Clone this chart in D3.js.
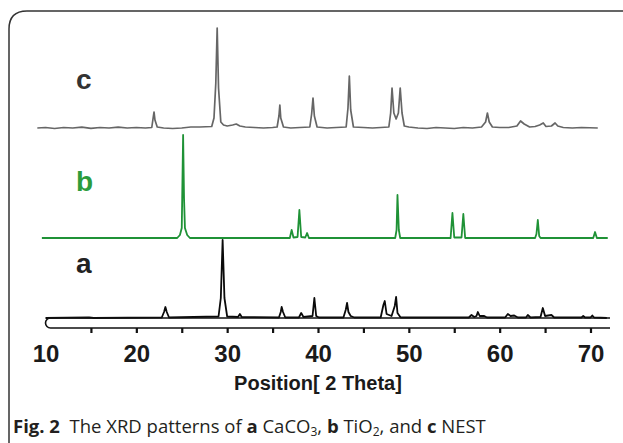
<!DOCTYPE html>
<html>
<head>
<meta charset="utf-8">
<script src="https://cdn.jsdelivr.net/npm/d3@7"></script>
<style>
  body { margin: 0; background: #fff; }
  svg { display: block; }
</style>
</head>
<body>
<div class="canvas"></div>
<script>
const w = 623;
const h = 443;

// XRD patterns, [2 theta, intensity above own baseline]
const patternA = [
  [10.0,0],[14.8,0.5],[15.3,0],[22.8,0.5],[23.05,6],[23.2,11],[23.35,6],[23.6,0.5],
  [29.05,1.5],[29.3,20],[29.5,78],[29.7,20],[30.0,1.5],
  [31.2,1],[31.4,4],[31.6,1],
  [35.7,0.5],[35.9,6],[36.0,11],[36.15,6],[36.4,0.5],
  [37.9,0.5],[38.15,5],[38.4,1],[39.4,2],[39.6,20],[39.8,2],[40.1,0.5],
  [42.8,0.5],[43.05,8],[43.2,15],[43.35,6],[43.6,2],[44.0,0.5],
  [46.9,0.5],[47.2,13],[47.35,17],[47.55,4],[48.1,2],[48.45,12],[48.6,21],[48.75,5],[49.1,0.5],
  [56.6,0.5],[56.9,3],[57.2,1],[57.45,2],[57.6,6],[57.8,2],[58.3,2],[58.6,0.5],
  [60.6,0.5],[60.9,4],[61.2,2],[61.6,2.5],[62.0,0.5],
  [62.9,0.5],[63.1,3],[63.4,0.5],[64.5,1],[64.75,10],[65.0,2],[65.7,3],[66.0,0.5],
  [69.0,0.5],[69.2,2],[69.4,0.5],[70.0,0.5],[70.2,2.5],[70.4,0.5],[71.8,0]
];

const patternB = [
  [9.6,0],[24.5,0],[24.8,3],[25.0,10],[25.05,40],[25.15,103],[25.25,40],[25.35,10],[25.6,3],[25.9,0],
  [36.9,0],[37.1,8],[37.3,0.5],[37.75,1],[37.95,28],[38.15,1],[38.6,0.5],[38.8,5],[39.0,0],
  [48.5,0],[48.65,8],[48.75,43],[48.9,8],[49.05,0],
  [54.6,0],[54.8,25],[55.0,0.5],[55.8,0.5],[56.0,24],[56.2,0],
  [63.9,0],[64.05,4],[64.2,18],[64.35,2],[64.5,0],
  [70.3,0],[70.5,6],[70.7,0],[71.9,0]
];

const patternC = [
  [9.1,0],[10,0.5],[11,-0.5],[12,0.5],[13,0],[14,0.8],[15,-0.3],[16,0.5],[17,0],[18,0.8],
  [19,0],[20,0.5],[21,0],[21.7,0.5],[21.85,10],[21.95,16],[22.05,8],[22.3,1],[23,0],[24,-0.5],
  [25,0],[26,1],[27,1],[28.3,1.5],[28.55,10],[28.75,45],[28.9,100],[29.05,40],[29.3,6],[29.6,3],
  [30,2],[30.6,3],[31.0,4],[31.4,2],[32,1],[33,0.5],[34,0],[35,0.5],[35.5,1],[35.7,12],
  [35.8,23],[35.9,10],[36.2,1],[37,0],[38,0.5],[39.1,1],[39.3,14],[39.45,30],[39.6,12],[39.9,1],
  [41,0],[42,0.5],[43.1,1],[43.3,20],[43.45,52],[43.6,18],[43.9,1],[45,0.5],[46,0],[47.8,1],
  [48.0,15],[48.15,40],[48.35,15],[48.6,9],[48.85,15],[49.05,40],[49.25,15],[49.5,2],[50,1],[51,0],
  [52,-0.5],[53,0.5],[54,0],[55,-0.5],[56,0.5],[57,0],[58,1],[58.45,6],[58.65,15],[58.85,6],
  [59.2,1],[60,0.5],[61,0.5],[61.9,2],[62.3,7],[62.7,4],[63.3,1],[63.9,1.5],[64.4,3],[64.8,5],
  [65.1,1.5],[65.7,2],[66.1,5],[66.4,2],[67,0.5],[68,0],[69,0.5],[70.8,0]
];

const labelTicks = [10, 20, 30, 40, 50, 60, 70];
const minorTicks = [15, 20, 25, 30, 35, 40, 45, 50, 55, 60, 65, 70];

const svg = d3.select(".canvas")
  .append("svg")
  .attr("width", w)
  .attr("height", h);

const x = d3.scaleLinear().domain([10, 70]).range([45.5, 590.5]);
// one pixel per count, patterns stacked with offsets
const y = d3.scaleLinear().domain([0, 300]).range([318, 18]);

// frame
svg.append("path")
  .attr("d", "M9,443 L9,29 Q9,11 27,11 L623,11")
  .attr("fill", "none")
  .attr("stroke", "#333")
  .attr("stroke-width", 1.5);

const line = off => d3.line()
  .x(d => x(d[0]))
  .y(d => y(d[1] + off));

const series = [
  {name: "a", data: patternA, off: 0, color: "#0a0a0a", width: 1.8, labelColor: "#222", ly: 273},
  {name: "b", data: patternB, off: 80, color: "#1f9236", width: 1.8, labelColor: "#2c9c3c", ly: 191},
  {name: "c", data: patternC, off: 190, color: "#666", width: 1.7, labelColor: "#333", ly: 89}
];

series.forEach(s => {
  svg.append("path")
    .datum(s.data)
    .attr("fill", "none")
    .attr("stroke", s.color)
    .attr("stroke-width", s.width)
    .attr("stroke-linejoin", "round")
    .attr("d", line(s.off));

  svg.append("text")
    .attr("x", 76)
    .attr("y", s.ly)
    .style("font-family", "'Liberation Sans', Arial, sans-serif")
    .style("font-weight", "bold")
    .style("font-size", "28px")
    .attr("fill", s.labelColor)
    .text(s.name);
});

// axis bar with rounded left end
const bx0 = x(10), bx1 = 610, by0 = 318, by1 = 328;
svg.append("path")
  .attr("d", `M${bx1},${by0} L${bx0 + 5},${by0} A5,5 0 0 0 ${bx0 + 5},${by1} L${bx1},${by1}`)
  .attr("fill", "none")
  .attr("stroke", "#111")
  .attr("stroke-width", 1.6);

// tick marks
const tickAxis = d3.axisBottom(x)
  .tickValues(minorTicks)
  .tickSize(5)
  .tickFormat("");

svg.append("g")
  .attr("transform", `translate(0,${by1})`)
  .call(tickAxis)
  .call(g => g.select(".domain").remove())
  .call(g => g.selectAll("line").attr("stroke", "#111").attr("stroke-width", 2.2));

// tick labels
const labelAxis = d3.axisBottom(x)
  .tickValues(labelTicks)
  .tickSize(0)
  .tickPadding(0)
  .tickFormat(d3.format("d"));

svg.append("g")
  .attr("transform", "translate(0,345)")
  .call(labelAxis)
  .call(g => g.select(".domain").remove())
  .call(g => g.selectAll("text")
    .attr("dy", "0.71em")
    .attr("fill", "#1a1a1a")
    .style("font-family", "'Liberation Sans', Arial, sans-serif")
    .style("font-weight", "bold")
    .style("font-size", "24px"));

svg.append("text")
  .attr("x", x(40))
  .attr("y", 390)
  .attr("text-anchor", "middle")
  .attr("fill", "#1a1a1a")
  .style("font-family", "'Liberation Sans', Arial, sans-serif")
  .style("font-weight", "bold")
  .style("font-size", "20px")
  .text("Position[ 2 Theta]");

// caption
const cap = svg.append("text")
  .attr("x", 13)
  .attr("y", 433)
  .attr("fill", "#231f20")
  .style("font-family", "'Open Sans', 'Noto Sans', sans-serif")
  .style("font-size", "18.5px");

const parts = [
  ["Fig. 2", "bold"], ["  The XRD patterns of ", ""], ["a", "bold"], [" CaCO", ""], ["3", "sub"],
  [", ", ""], ["b", "bold"], [" TiO", ""], ["2", "sub"], [", and ", ""], ["c", "bold"], [" NEST", ""]
];
let inSub = false;
parts.forEach(p => {
  const t = cap.append("tspan").text(p[0]).attr("xml:space", "preserve");
  if (p[1] === "bold") t.style("font-weight", "bold");
  if (p[1] === "sub") {
    t.attr("dy", 3).style("font-size", "12px");
    inSub = true;
  } else {
    if (inSub) t.attr("dy", -3);
    inSub = false;
  }
});
</script>
</body>
</html>
